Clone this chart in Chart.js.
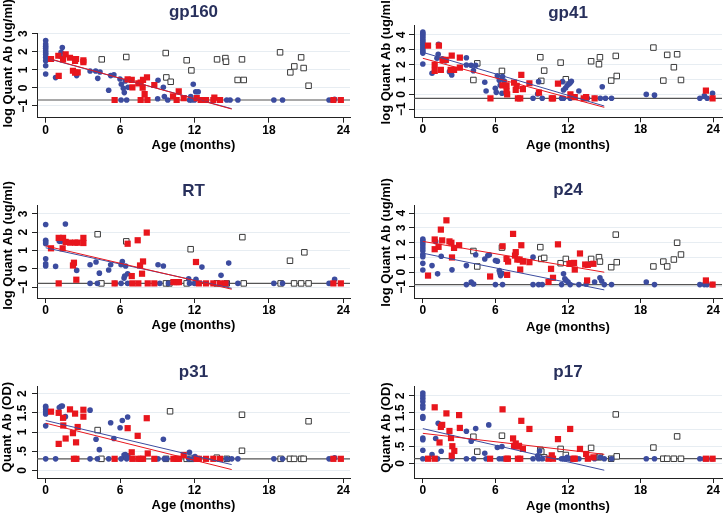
<!DOCTYPE html>
<html><head><meta charset="utf-8">
<script src="https://cdn.jsdelivr.net/npm/chart.js@4.4.1/dist/chart.umd.min.js"></script>
<style>
html,body{margin:0;padding:0;background:#fff;}
#wrap{position:relative;width:727px;height:515px;overflow:hidden;background:#fff;}
canvas{position:absolute;}
</style></head><body><div id="wrap">
<canvas id="c0"></canvas><canvas id="c1"></canvas><canvas id="c2"></canvas>
<canvas id="c3"></canvas><canvas id="c4"></canvas><canvas id="c5"></canvas>
</div>
<script>
// ---------------- DATA ----------------
const antigenNames = ['gp160','gp41','RT','p24','p31','p17'];
const yTitles = ['log Quant Ab (ug/ml)','log Quant Ab (ug/ml)','log Quant Ab (ug/ml)','log Quant Ab (ug/ml)','Quant Ab (OD)','Quant Ab (OD)'];
const xTitle = 'Age (months)';
const xTicks = [0,6,12,18,24];
const xTickLabels = ['0','6','12','18','24'];
const logTicks3 = [-1,0,1,2,3];
const logTickLabels3 = ['\u22121','0','1','2','3'];
const logTicks4 = [-1,0,1,2,3,4];
const logTickLabels4 = ['\u22121','0','1','2','3','4'];
const odTicks = [0,0.5,1,1.5,2];
const odTickLabels = ['0','.5','1','1.5','2'];
const lodValues = [-0.67,-0.26,-0.8,-0.84,0.3,0.14];

// gp160
const gp160Blue = [[0,2.62],[0,2.43],[0,2.3],[0,2.2],[0,2.06],[0,1.95],[0,1.85],[0,1.69],[0,1.5],[0,1.23],[0,0.77],
[0.8,0.57],[1.16,1.76],[1.24,1.97],[1.34,2.24],[1.42,1.64],[2.5,0.68],[3.58,0.94],[4.03,0.94],[4.2,0.53],[4.38,0.88],[5.08,-0.13],[5.24,0.68],[5.5,0.73],[5.99,0.49],[6.1,0.2],[6.26,-0.02],[6.34,-0.26],[6.42,0.38],[6.64,0.03],[6.08,-0.67],[6.53,-0.67],[9.06,0.42],[9.03,-0.6],[9.49,0.03],[9.57,-0.48],[9.84,-0.67],[11.6,-0.67],[11.75,-0.67],[11.7,-0.48],[11.9,0.2],[12.1,-0.21],[12.3,-0.21],[12.0,-0.67],[14.6,-0.67],[14.87,-0.67],[15.5,-0.67],[18.4,-0.67],[19.1,-0.67],[22.85,-0.67],[23.2,-0.67],[23.3,-0.63]];
const gp160Red = [[0.43,1.6],[1.02,1.78],[1.05,0.66],[1.4,1.58],[1.61,1.86],[1.96,1.67],[2.37,1.49],[2.45,1.6],[2.2,0.95],[2.37,0.84],[2.58,0.86],[3.04,1.53],[3.04,1.43],[5.56,-0.67],[6.61,0.47],[6.94,0.44],[6.99,0.03],[7.47,0.25],[7.66,0.29],[7.85,0.44],[8.17,0.58],[7.82,0.01],[7.98,-0.34],[7.66,-0.67],[8.2,-0.67],[8.76,0.16],[10.27,-0.47],[10.73,-0.19],[10.56,-0.67],[11.13,-0.57],[12.18,-0.57],[12.5,-0.67],[12.93,-0.67],[13.52,-0.67],[13.6,-0.54],[14.06,-0.67],[23.2,-0.67],[23.8,-0.67]];
const gp160Open = [[4.52,1.58],[6.5,1.71],[9.68,1.93],[9.73,0.58],[10.08,0.34],[11.37,1.53],[11.75,0.97],[13.82,1.58],[14.49,1.65],[14.54,1.45],[15.48,0.44],[15.97,0.44],[15.83,1.58],[18.9,1.97],[19.73,0.86],[20.05,1.19],[20.6,1.69],[20.8,1.1],[21.2,0.12]];
const gp160BlueFit = [[0.3,1.6],[15,-1.15]];
const gp160RedFit = [[0.3,1.62],[15,-1.17]];

// gp41
const gp41Blue = [[0,4.2],[0,4.1],[0,4.0],[0,3.88],[0,3.75],[0,3.62],[0,3.5],[0,3.38],[0,3.25],[0,3.12],[0,3.0],[0,2.88],[0,2.78],[0,2.05],
[0.76,1.42],[1.17,2.43],[1.27,2.7],[1.3,3.37],[1.6,2.4],[1.87,2.25],[2.2,1.53],[2.39,1.31],[3.6,2.47],[3.6,1.98],[3.99,1.96],[4.18,1.6],[4.37,1.96],[5.12,0.82],[5.23,0.23],[5.99,0.41],[6.07,0.14],[6.16,1.26],[6.32,0.95],[6.4,0.61],[6.54,0.08],[6.59,1.2],[6.73,0.9],[9.11,-0.26],[9.57,0.86],[9.87,-0.26],[9.49,0.03],[11.47,-0.26],[11.63,-0.26],[11.63,0.3],[11.8,0.43],[11.93,0.6],[12.07,0.7],[12.18,0.79],[12.28,0.88],[11.55,0.86],[12.9,0.23],[12.18,-0.26],[13.6,-0.26],[14.2,-0.26],[14.67,-0.26],[15.1,-0.26],[15.6,-0.26],[14.83,0.52],[18.47,0.0],[19.15,-0.05],[22.9,-0.26],[23.27,-0.1],[23.5,-0.26],[23.95,0.08]];
const gp41Red = [[0.43,3.28],[1.33,3.28],[0.98,1.98],[0.98,1.58],[1.49,1.65],[1.63,2.32],[1.9,2.32],[2.3,1.65],[2.39,2.61],[2.58,1.65],[3.06,2.47],[3.06,1.8],[5.59,-0.26],[6.59,0.61],[6.92,0.61],[6.97,0.0],[6.92,0.23],[7.54,0.8],[7.68,0.3],[7.76,0.57],[7.86,-0.26],[8.05,-0.26],[8.14,1.31],[8.27,0.35],[8.81,0.75],[9.6,0.12],[10.66,-0.26],[10.76,-0.26],[11.17,0.73],[12.2,0.0],[12.56,-0.19],[13.3,-0.26],[13.5,-0.19],[14.2,-0.26],[23.4,0.26],[23.95,-0.26]];
const gp41Open = [[4.5,2.09],[4.18,0.97],[6.54,1.58],[9.71,2.5],[10.03,1.6],[9.79,0.91],[11.39,2.14],[11.82,1.02],[13.91,2.23],[14.56,2.03],[14.64,2.5],[15.57,0.93],[15.95,2.59],[16.03,1.24],[19.06,3.15],[19.88,0.93],[20.2,2.66],[20.75,1.83],[21.02,2.7],[21.34,0.97]];
const gp41BlueFit = [[0,2.83],[15,-0.78]];
const gp41RedFit = [[0,2.43],[15,-0.87]];

// RT
const rtBlue = [[0,2.42],[0,1.56],[0,1.47],[0,1.37],[0,0.55],[0,0.27],[0,0.15],[0.8,0.13],[1.1,1.5],[1.26,1.5],[1.59,2.45],[2.5,-0.09],[3.58,0.22],[4.06,0.37],[4.33,-0.24],[5.08,-0.07],[5.24,0.22],[6.08,0.22],[6.18,0.4],[6.32,-0.51],[6.37,-0.4],[6.45,0.15],[6.61,-0.27],[3.58,-0.8],[4.17,-0.8],[5.6,-0.8],[6.08,-0.8],[6.61,-0.8],[9.06,0.22],[9.49,0.15],[9.2,-0.8],[9.9,-0.8],[11.53,-0.55],[12.12,-0.58],[12.6,0.09],[11.6,-0.8],[12.0,-0.8],[14.14,-0.36],[14.76,0.31],[14.6,-0.8],[15.5,-0.8],[18.4,-0.8],[19.1,-0.8],[22.85,-0.8],[23.3,-0.58]];
const rtRed = [[0.43,1.12],[1.05,1.69],[1.05,-0.8],[1.4,1.69],[1.37,1.12],[1.61,1.47],[1.96,1.43],[2.37,1.43],[2.58,1.43],[3.04,1.69],[3.04,1.41],[2.2,0.18],[2.28,0.33],[2.47,-0.6],[5.56,-0.8],[6.61,1.37],[6.94,-0.4],[6.99,-0.8],[7.42,1.56],[7.61,0.18],[7.77,-0.27],[7.85,0.4],[8.15,1.98],[7.47,-0.8],[8.23,-0.8],[8.76,-0.8],[10.3,-0.73],[10.56,-0.73],[10.75,-0.73],[12.12,0.37],[12.35,-0.8],[12.93,-0.8],[13.52,-0.8],[14.06,-0.8],[14.5,-0.8],[23.2,-0.8],[23.8,-0.8]];
const rtOpen = [[4.19,1.89],[6.5,1.5],[11.69,1.07],[15.86,1.73],[19.7,0.44],[20.86,0.9],[4.49,-0.8],[9.7,-0.8],[9.97,-0.8],[11.37,-0.8],[13.8,-0.8],[14.6,-0.8],[15.97,-0.8],[18.95,-0.8],[20.03,-0.8],[20.6,-0.8],[21.2,-0.8]];
const rtBlueFit = [[0,1.15],[15,-1.07]];
const rtRedFit = [[0,1.25],[15,-1.12]];

// p24
const p24Blue = [[0,2.25],[0,2.15],[0,2.0],[0,1.85],[0,1.65],[0,1.45],[0,1.2],[0,1.05],[0,0.6],[0,0.15],[0.76,0.45],[1.06,2.09],[1.22,-0.11],[1.52,1.08],[2.41,0.16],[3.6,0.45],[3.6,-0.84],[4.0,-0.67],[4.2,-0.8],[4.37,1.18],[5.12,0.9],[5.37,1.13],[5.5,1.18],[6.0,0.79],[6.16,0.75],[6.0,-0.84],[6.32,0.11],[6.38,-0.07],[6.43,-0.23],[6.54,-0.07],[6.59,-0.84],[9.11,1.02],[9.11,-0.84],[9.57,-0.84],[9.87,-0.84],[11.47,-0.84],[11.63,-0.11],[11.74,-0.45],[11.85,-0.56],[12.0,-0.66],[12.18,-0.84],[12.9,-0.84],[13.5,-0.8],[14.2,-0.66],[14.64,-0.38],[14.78,-0.6],[15.0,-0.84],[15.6,-0.84],[18.47,-0.66],[19.15,-0.84],[22.9,-0.84],[23.27,-0.84],[23.5,-0.84],[23.95,-0.84]];
const p24Red = [[0.43,-0.23],[0.98,2.22],[0.98,1.56],[1.3,1.72],[1.49,2.89],[1.6,2.16],[1.95,3.52],[2.2,2.09],[2.36,2.0],[2.41,1.0],[2.58,1.65],[3.0,1.83],[5.56,-0.29],[6.59,1.76],[6.92,0.9],[6.97,-0.18],[7.05,0.72],[7.46,2.6],[7.62,1.13],[7.68,1.36],[7.81,0.86],[8.0,0.86],[8.05,0.18],[8.14,1.83],[8.27,0.72],[8.81,0.68],[10.39,-0.66],[10.6,0.23],[10.76,-0.38],[11.17,1.89],[12.12,0.57],[12.28,0.61],[12.5,0.63],[12.56,0.18],[12.99,1.27],[13.42,0.52],[13.64,0.5],[13.58,-0.56],[14.1,0.57],[23.4,-0.56],[23.95,-0.84]];
const p24Open = [[4.18,1.44],[4.5,0.39],[6.54,1.67],[9.71,1.7],[9.79,0.9],[10.03,0.97],[11.39,0.61],[11.82,0.9],[13.91,0.9],[14.56,1.02],[14.64,0.72],[15.57,0.34],[15.95,2.55],[16.03,0.68],[19.06,0.39],[19.88,0.72],[20.2,0.39],[20.75,0.86],[21.02,2.0],[21.34,1.2]];
const p24BlueFit = [[0,1.29],[15,-1.2]];
const p24RedFit = [[0,2.09],[15,0.0]];

// p31
const p31Blue = [[0,1.67],[0,1.63],[0,1.58],[0,1.53],[0,1.47],[0,1.16],[0,0.3],[0.8,0.3],[1.1,1.64],[1.24,1.67],[1.34,1.68],[1.59,1.4],[2.5,0.3],[3.58,1.57],[3.58,0.3],[4.06,0.81],[4.33,0.54],[4.17,0.3],[5.08,0.3],[5.24,1.24],[5.5,0.83],[6.0,1.11],[6.18,1.3],[6.32,0.4],[6.42,0.41],[6.61,1.39],[6.08,0.3],[6.53,0.3],[6.64,0.35],[9.49,0.81],[9.06,0.3],[9.57,0.3],[9.76,0.3],[11.59,0.47],[12.04,0.36],[11.53,0.3],[11.9,0.3],[12.12,0.3],[14.6,0.3],[15.0,0.3],[15.5,0.3],[18.4,0.3],[19.1,0.3],[22.85,0.3],[23.3,0.33]];
const p31Red = [[0.43,1.53],[1.05,1.5],[1.05,0.69],[1.4,1.37],[1.42,1.17],[1.61,0.83],[1.96,1.59],[2.2,0.97],[2.37,1.48],[2.45,0.73],[2.58,1.13],[3.04,1.58],[3.04,1.4],[2.28,0.3],[2.47,0.3],[5.56,0.3],[6.61,1.1],[6.94,0.47],[6.99,0.3],[7.42,0.9],[7.47,0.3],[7.66,0.3],[7.85,0.3],[8.15,1.36],[8.23,0.44],[8.76,0.3],[10.3,0.3],[10.56,0.3],[10.75,0.3],[11.13,0.4],[12.18,0.3],[12.35,0.3],[12.93,0.3],[13.52,0.3],[14.06,0.3],[23.2,0.3],[23.8,0.3]];
const p31Open = [[4.19,1.05],[4.49,0.3],[6.5,0.36],[9.7,0.3],[10.03,1.54],[11.37,0.3],[11.75,0.3],[13.8,0.33],[14.6,0.3],[15.83,1.45],[15.83,0.51],[18.95,0.3],[19.7,0.3],[20.03,0.3],[20.6,0.3],[20.8,0.3],[21.2,1.28]];
const p31BlueFit = [[0,1.3],[15,0.15]];
const p31RedFit = [[0,1.23],[15,0.02]];

// p17
const p17Blue = [[0,2.08],[0,2.0],[0,1.92],[0,1.83],[0,1.72],[0,1.64],[0,1.39],[0,1.34],[0,0.75],[0,0.7],[0,0.39],[0,0.14],[0.76,0.26],[1.06,0.74],[1.27,1.19],[1.22,0.14],[1.52,0.36],[2.41,0.14],[3.6,0.95],[3.6,0.14],[4.0,0.66],[4.2,0.14],[4.37,1.03],[5.12,0.3],[5.23,0.14],[5.45,1.14],[6.16,0.47],[6.32,0.14],[6.54,0.5],[6.59,0.14],[9.11,0.14],[9.49,0.23],[9.57,0.14],[9.87,0.14],[9.65,0.37],[11.47,0.14],[11.63,0.14],[11.8,0.14],[11.93,0.18],[12.1,0.14],[12.28,0.14],[12.9,0.14],[14.2,0.14],[14.67,0.18],[15.0,0.14],[15.6,0.14],[18.47,0.14],[19.15,0.14],[22.9,0.14],[23.27,0.14],[23.5,0.14],[23.95,0.14]];
const p17Red = [[0.43,0.14],[0.98,1.66],[0.98,0.14],[1.38,0.62],[1.49,1.08],[1.6,1.14],[1.95,1.48],[2.2,0.96],[2.33,0.75],[2.39,0.23],[2.44,0.51],[2.6,0.37],[3.0,1.43],[3.06,1.05],[5.56,0.14],[6.59,1.6],[6.92,0.14],[7.03,0.14],[7.46,0.74],[7.54,0.52],[7.68,0.59],[7.78,0.5],[7.95,0.52],[8.14,1.26],[8.27,0.43],[7.86,0.14],[8.05,0.14],[8.81,1.02],[10.39,0.14],[10.66,0.24],[10.76,0.14],[11.17,0.72],[12.18,1.02],[12.45,0.14],[12.56,0.14],[12.99,0.43],[13.5,0.28],[13.64,0.14],[14.1,0.18],[23.4,0.14],[23.95,0.14]];
const p17Open = [[4.18,0.79],[4.5,0.35],[6.54,0.82],[9.71,0.4],[9.79,0.35],[10.03,0.18],[11.39,0.43],[11.82,0.25],[13.91,0.46],[14.56,0.18],[14.64,0.2],[15.57,0.14],[15.95,1.45],[16.03,0.21],[19.06,0.47],[19.88,0.14],[20.2,0.14],[20.75,0.14],[21.02,0.8],[21.34,0.14]];
const p17BlueFit = [[0,1.03],[15,-0.2]];
const p17RedFit = [[0,0.89],[15,0.27]];

// ---------------- LAYOUT (positions / sizes only) ----------------
const FONT = "'Liberation Sans', Arial, Helvetica, sans-serif";
const layouts = [
  {left:0,   top:0,   w:364, h:172, plotL:37, plotR:350, xmin:-0.70, xmax:24.54, ymin:-1.65, ymax:3.04, t1:2.3, t2:10.3, xh:54.3, xtPad:18.4, ytPad:0.2, ytShift:12, tickPad:1.6},
  {left:364, top:0,   w:363, h:172, plotL:50, plotR:363, xmin:-0.73, xmax:24.73, ymin:-1.54, ymax:4.67, t1:2.8, t2:1.8, xh:54.7, xtPad:19.2, ytPad:14.7, ytShift:11, tickPad:0.7},
  {left:0,   top:172, w:364, h:172, plotL:37, plotR:350, xmin:-0.70, xmax:24.54, ymin:-1.60, ymax:3.49, t1:8.8, t2:3.8, xh:46, xtPad:11.2, ytPad:1.0, ytShift:6, tickPad:1.6},
  {left:364, top:172, w:363, h:172, plotL:50, plotR:363, xmin:-0.73, xmax:24.73, ymin:-1.75, ymax:4.56, t1:8.3, t2:4.3, xh:46, xtPad:9.2, ytPad:14.7, ytShift:9, tickPad:0.7},
  {left:0,   top:344, w:364, h:171, plotL:37, plotR:350, xmin:-0.70, xmax:24.54, ymin:-0.20, ymax:2.20, t1:17.8, t2:3.8, xh:37, xtPad:1.5, ytPad:0, ytShift:5, tickPad:1.0},
  {left:364, top:344, w:363, h:171, plotL:50, plotR:363, xmin:-0.73, xmax:24.73, ymin:-0.43, ymax:2.29, t1:17.8, t2:3.8, xh:37, xtPad:1.2, ytPad:14.7, ytShift:4.5, tickPad:0}
];
const series = [
  {blue:gp160Blue, red:gp160Red, open:gp160Open, blueFit:gp160BlueFit, redFit:gp160RedFit, yt:logTicks3, ytl:logTickLabels3},
  {blue:gp41Blue, red:gp41Red, open:gp41Open, blueFit:gp41BlueFit, redFit:gp41RedFit, yt:logTicks4, ytl:logTickLabels4},
  {blue:rtBlue, red:rtRed, open:rtOpen, blueFit:rtBlueFit, redFit:rtRedFit, yt:logTicks3, ytl:logTickLabels3},
  {blue:p24Blue, red:p24Red, open:p24Open, blueFit:p24BlueFit, redFit:p24RedFit, yt:logTicks4, ytl:logTickLabels4},
  {blue:p31Blue, red:p31Red, open:p31Open, blueFit:p31BlueFit, redFit:p31RedFit, yt:odTicks, ytl:odTickLabels},
  {blue:p17Blue, red:p17Red, open:p17Open, blueFit:p17BlueFit, redFit:p17RedFit, yt:odTicks, ytl:odTickLabels}
];

const BLUE = '#3c4c9f', RED = '#e8161d', OPEN = '#3a3a3a', AXIS = '#222222', GRID = '#e7edf2', TITLE = '#28305c';
const pts = arr => arr.map(p => ({x:p[0], y:p[1]}));

for (let i = 0; i < 6; i++) {
  const L = layouts[i], S = series[i];
  const cv = document.getElementById('c' + i);
  cv.width = L.w; cv.height = L.h;
  cv.style.left = L.left + 'px'; cv.style.top = L.top + 'px';
  cv.style.width = L.w + 'px'; cv.style.height = L.h + 'px';
  const lod = lodValues[i];
  new Chart(cv, {
    type: 'scatter',
    data: { datasets: [
      {data: pts(S.redFit), showLine:true, borderColor:RED, borderWidth:1, pointRadius:0, fill:false},
      {data: pts(S.blueFit), showLine:true, borderColor:BLUE, borderWidth:1, pointRadius:0, fill:false},
      {data: pts(S.red), pointStyle:'rect', pointRadius:4.4, backgroundColor:RED, borderColor:RED, borderWidth:0},
      {data: pts(S.blue), pointStyle:'circle', pointRadius:2.8, backgroundColor:BLUE, borderColor:BLUE, borderWidth:0},
      {data: pts(S.open), pointStyle:'rect', pointRadius:3.9, backgroundColor:'#ffffff', borderColor:OPEN, borderWidth:1},
      {data: [{x:L.xmin, y:lod}, {x:L.xmax, y:lod}], showLine:true, borderColor:'#555555', borderWidth:1.2, pointRadius:0, fill:false}
    ]},
    options: {
      responsive:false, animation:false, devicePixelRatio:1, events:[],
      layout: {padding:{left:0, top:0, bottom:0, right: L.w - L.plotR}},
      plugins: {
        legend:{display:false}, tooltip:{enabled:false},
        title: {display:true, text: antigenNames[i], fullSize:false, color:TITLE,
                font:{family:FONT, size:17, weight:'bold'}, padding:{top:L.t1, bottom:L.t2}}
      },
      scales: {
        x: {type:'linear', min:L.xmin, max:L.xmax,
            afterBuildTicks: a => { a.ticks = xTicks.map(v => ({value:v})); },
            afterFit: a => { a.height = L.xh; },
            ticks: {autoSkip:false, maxRotation:0, minRotation:0, padding:0.5, color:'#000',
                    font:{family:FONT, size:12, weight:'bold'},
                    callback: v => xTickLabels[xTicks.indexOf(v)]},
            grid: {drawOnChartArea:false, tickLength:5, tickColor:AXIS, color:AXIS},
            border: {display:true, color:AXIS, width:1},
            title: {display:true, text:xTitle, color:'#000', font:{family:FONT, size:13, weight:'bold'}, padding:{top:0, bottom:L.xtPad}}
        },
        y: {type:'linear', min:L.ymin, max:L.ymax,
            afterBuildTicks: a => { a.ticks = S.yt.map(v => ({value:v})); },
            afterFit: a => {
              a.width = L.plotL;
              if (!a._titleShifted) {
                const orig = a.drawTitle;
                a.drawTitle = function () {
                  this.ctx.save(); this.ctx.translate(0, -L.ytShift);
                  orig.call(this);
                  this.ctx.restore();
                };
                a._titleShifted = true;
              }
            },
            ticks: {autoSkip:false, minRotation:90, maxRotation:90, crossAlign:'center', padding:L.tickPad, color:'#000',
                    font:{family:FONT, size:12, weight:'bold'},
                    callback: v => S.ytl[S.yt.indexOf(v)]},
            grid: {color:GRID, lineWidth:1, tickLength:5, tickColor:AXIS},
            border: {display:true, color:AXIS, width:1},
            title: {display:true, text:yTitles[i], color:'#000', font:{family:FONT, size:13, weight:'bold'}, padding:{top:L.ytPad, bottom:0}}
        }
      }
    }
  });
}
</script>
</body></html>
